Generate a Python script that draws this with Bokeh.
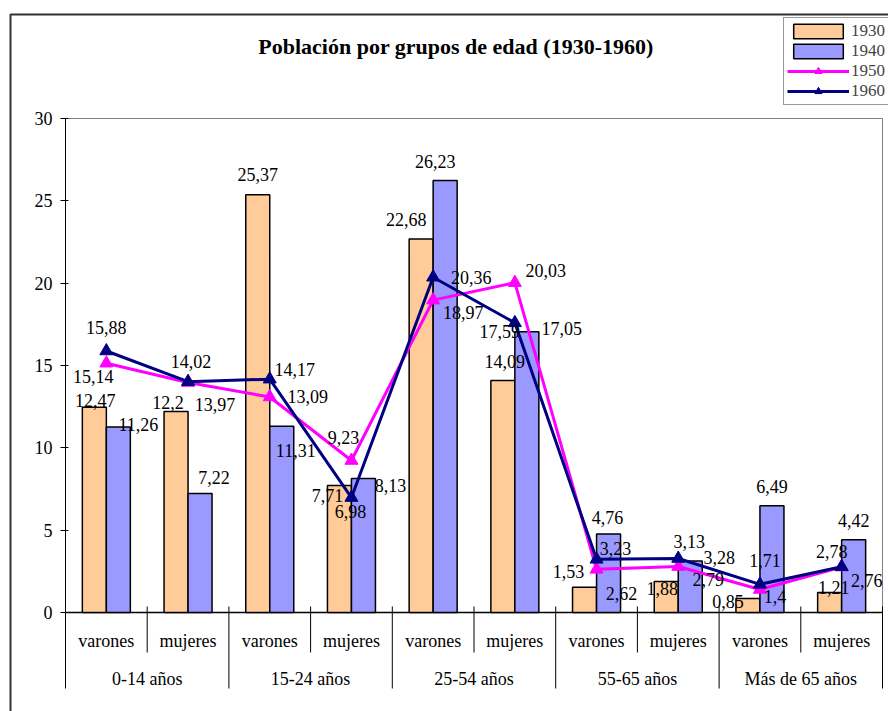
import numpy as np
from bokeh.plotting import figure
from bokeh.models import Range1d, LinearAxis, FixedTicker, Legend, LegendItem
from bokeh.core.properties import value
from bokeh.embed import file_html
from bokeh.resources import INLINE

# ---------------- data ----------------
groups = ["0-14 años", "15-24 años", "25-54 años", "55-65 años", "Más de 65 años"]
sexes = ["varones", "mujeres"]
series_names = ["1930", "1940", "1950", "1960"]
v1930 = [12.47, 12.2, 25.37, 7.71, 22.68, 14.09, 1.53, 1.88, 0.85, 1.21]
v1940 = [11.26, 7.22, 11.31, 8.13, 26.23, 17.05, 4.76, 3.13, 6.49, 4.42]
v1950 = [15.14, 13.97, 13.09, 9.23, 18.97, 20.03, 2.62, 2.79, 1.4, 2.76]
v1960 = [15.88, 14.02, 14.17, 6.98, 20.36, 17.59, 3.23, 3.28, 1.71, 2.78]
yticks = [0, 5, 10, 15, 20, 25, 30]
title_text = "Población por grupos de edad (1930-1960)"

# label placement (pixel offsets from each mark's anchor) - styling only
off1930 = [(1, -7), (-8, -9), (0, -20), (-12, 10), (-15, -20), (2, -19), (-16, -16), (-4, 7), (-20, 3), (4, -5)]
off1940 = [(20, -3), (14, -16), (14, 24), (27, 7), (-10, -19), (35, -3), (-1, -17), (-1, -19), (0, -19), (0, -19)]
off1950 = [(-13, 13), (27, 22), (38, 0), (-8, -23), (30, 12), (31, -12), (25, 24), (30, 13), (15, 7), (25, 13)]
off1960 = [(0, -24), (3, -20), (25, -10), (-1, 14), (38, 0), (-15, 9), (19, -11), (41, -1), (5, -24), (-10, -15)]

# ---------------- layout constants ----------------
W, H = 888, 711
X0, PX_X = 65.0, 81.7      # canvas px of x=0, px per category
Y0, PX_Y = 612.0, 16.467   # canvas px of y=0, px per unit


def cx(px):
    return (px - X0) / PX_X


def cy(py):
    return (Y0 - py) / PX_Y


FONT = value("Liberation Serif")
n = len(v1930)
centers = np.arange(n) + 0.5
bar_w = 24 / PX_X
sub_labels = [s for g in groups for s in sexes]
group_centers = np.arange(len(groups)) * 2 + 1.0


def fmt(v):
    return ("%g" % v).replace(".", ",")


p = figure(width=W, height=H,
           x_range=Range1d(-X0 / PX_X, (W - X0) / PX_X),
           y_range=Range1d(-(H - Y0) / PX_Y, Y0 / PX_Y),
           output_backend="svg", toolbar_location=None,
           x_axis_location=None, y_axis_location=None,
           min_border=0, outline_line_color=None,
           background_fill_color="white", border_fill_color="white",
           title_location=None)
p.grid.visible = False

# outer chart border (left & top)
p.line([cx(10), cx(10), cx(W + 5)], [cy(H + 5), cy(14), cy(14)], line_color="#333333", line_width=2)

# plot-area border (top & right), grey
p.line([0, n, n], [yticks[-1], yticks[-1], 0], line_color="#808080", line_width=1)

# y axis
yax = LinearAxis(fixed_location=0, bounds=(0, yticks[-1]), ticker=FixedTicker(ticks=yticks),
                 major_tick_in=3, major_tick_out=5, minor_tick_line_color=None,
                 axis_line_color="black", major_tick_line_color="black",
                 major_label_text_font="Liberation Serif", major_label_text_font_size="18px",
                 major_label_text_color="black", major_label_standoff=8)
p.add_layout(yax, "left")

# category axis: line, boundary ticks / separators, labels
p.line([0, n], [0, 0], line_color="black", line_width=1.5)
bounds_x = np.arange(n + 1)
top_tick = cy(Y0 - 6)
sub_end = cy(652)
grp_end = cy(688)
p.segment(x0=bounds_x, y0=[top_tick] * (n + 1), x1=bounds_x,
          y1=[grp_end if b % 2 == 0 else sub_end for b in bounds_x],
          line_color="black", line_width=1)
p.text(x=centers, y=[cy(640)] * n, text=sub_labels, text_align="center", text_baseline="middle",
       text_font=FONT, text_font_size="18px", text_color="black")
p.text(x=group_centers, y=[cy(678)] * len(groups), text=groups, text_align="center",
       text_baseline="middle", text_font=FONT, text_font_size="18px", text_color="black")

# bars
r30 = p.vbar(x=centers - bar_w / 2, top=v1930, width=bar_w, fill_color="#FFCC99",
             line_color="black", line_width=1.5)
r40 = p.vbar(x=centers + bar_w / 2, top=v1940, width=bar_w, fill_color="#9999FF",
             line_color="black", line_width=1.5)

# lines
l50 = p.line(centers, v1950, line_color="#FF00FF", line_width=3)
s50 = p.scatter(centers, v1950, marker="triangle", size=13, fill_color="#FF00FF", line_color="#FF00FF")
l60 = p.line(centers, v1960, line_color="#000080", line_width=3)
s60 = p.scatter(centers, v1960, marker="triangle", size=13, fill_color="#000080", line_color="#000080")

# data labels
for xs, vals, offs in [(centers - bar_w / 2, v1930, off1930), (centers + bar_w / 2, v1940, off1940),
                       (centers, v1950, off1950), (centers, v1960, off1960)]:
    p.text(x=list(xs), y=vals, text=[fmt(v) for v in vals],
           x_offset=[o[0] for o in offs], y_offset=[o[1] for o in offs],
           text_align="center", text_baseline="middle", text_font=FONT,
           text_font_size="18px", text_color="black")

# title
p.text(x=[cx(455.5)], y=[cy(46)], text=[title_text], text_align="center", text_baseline="middle",
       text_font=FONT, text_font_size="22px", text_font_style="bold", text_color="black")

# legend
legend = Legend(items=[LegendItem(label=series_names[0], renderers=[r30]),
                       LegendItem(label=series_names[1], renderers=[r40]),
                       LegendItem(label=series_names[2], renderers=[l50, s50]),
                       LegendItem(label=series_names[3], renderers=[l60, s60])],
                location=(783, H - 105), orientation="vertical", padding=3, spacing=0,
                glyph_width=62, glyph_height=18, label_standoff=2,
                label_text_font="Liberation Serif", label_text_font_size="17px",
                border_line_color="#333333", border_line_width=1.5,
                background_fill_color="white", background_fill_alpha=1.0, margin=0)
p.add_layout(legend)

open("out.html", "w").write(file_html(p, INLINE))
